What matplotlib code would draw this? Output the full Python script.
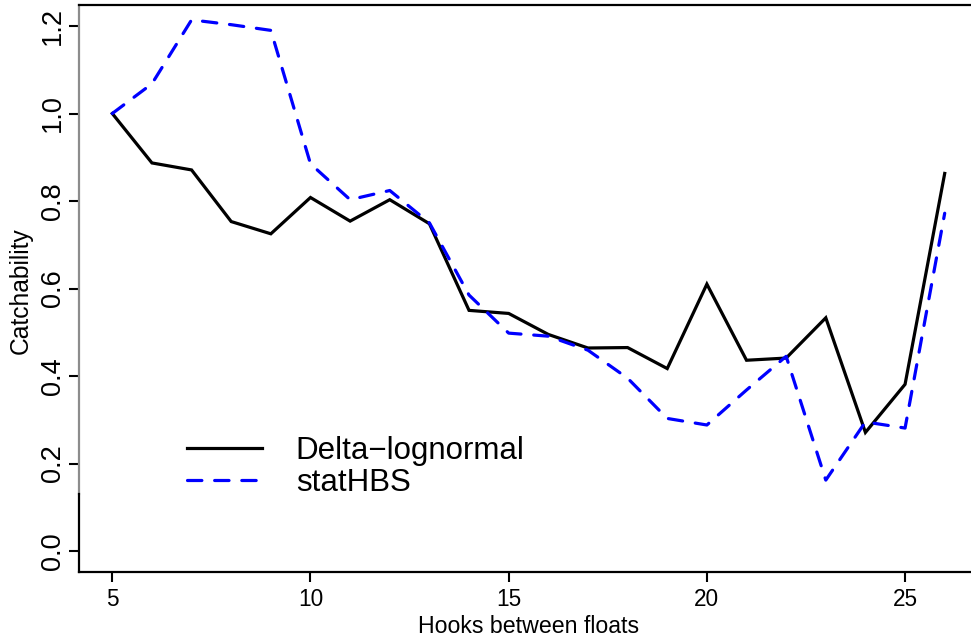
import matplotlib
matplotlib.use("Agg")
import matplotlib.pyplot as plt

plt.rcParams['font.family'] = ['Liberation Sans', 'DejaVu Sans']

# hooks between floats
hooks = [5, 6, 7, 8, 9, 10, 11, 12, 13, 14, 15, 16, 17, 18, 19, 20, 21, 22, 23, 24, 25, 26]

# catchability estimates
delta_lognormal = [1.0, 0.887, 0.871, 0.753, 0.725, 0.808, 0.754, 0.803, 0.748, 0.550,
                   0.543, 0.495, 0.464, 0.465, 0.417, 0.610, 0.436, 0.441, 0.533, 0.271,
                   0.381, 0.863]
stathbs = [1.0, 1.068, 1.214, 1.203, 1.19, 0.885, 0.803, 0.824, 0.75, 0.585,
           0.498, 0.491, 0.459, 0.395, 0.303, 0.288, 0.368, 0.445, 0.162, 0.295,
           0.281, 0.772]

yticks = [0.0, 0.2, 0.4, 0.6, 0.8, 1.0, 1.2]
xticks = [5, 10, 15, 20, 25]

fig = plt.figure(figsize=(9.71, 6.4), dpi=100)
ax = fig.add_axes([79 / 971, 1 - 572 / 640, (978 - 79) / 971, (572 - 5) / 640])

ax.plot(hooks, delta_lognormal, color='black', lw=2.3, solid_joinstyle='miter',
        label='Delta\u2212lognormal')
ax.plot(hooks, stathbs, color='#0000ff', lw=2.3, linestyle=(0, (4.5, 4)),
        dash_capstyle='round', label='statHBS')

ax.set_xlim(4.16, 26.84)
ax.set_ylim(-0.048, 1.248)
ax.set_xticks(xticks)
ax.set_yticks(yticks)
ax.set_yticklabels([f'{v:.1f}' for v in yticks], rotation=90, va='center')

ax.tick_params(axis='x', length=7, width=1.5, pad=4.5, labelsize=16.3)
ax.tick_params(axis='y', length=7, width=1.5, pad=2.5, labelsize=19.5)

for s in ['top', 'bottom']:
    ax.spines[s].set_linewidth(1.6)
ax.spines['right'].set_visible(False)
ax.spines['left'].set_visible(False)
# left axis line: grey upper part, black lower part
ax.axvline(4.16, ymin=(0.13 + 0.048) / 1.296, ymax=1, color='#8c8c8c', lw=1.6, clip_on=False)
ax.axvline(4.16, ymin=0, ymax=(0.13 + 0.048) / 1.296, color='black', lw=1.6, clip_on=False)

ax.set_xlabel('Hooks between floats', fontsize=16.7, labelpad=3)
ax.set_ylabel('Catchability', fontsize=17.7)
ax.yaxis.set_label_coords(-0.052, 0.496)

ax.legend(loc='center left', bbox_to_anchor=((187 - 79) / 899, (572 - 467) / 567),
          frameon=False, fontsize=22.5, handlelength=2.4, handletextpad=1.08,
          labelspacing=0.07, borderpad=0, borderaxespad=0)

fig.savefig('out.png', dpi=100)
